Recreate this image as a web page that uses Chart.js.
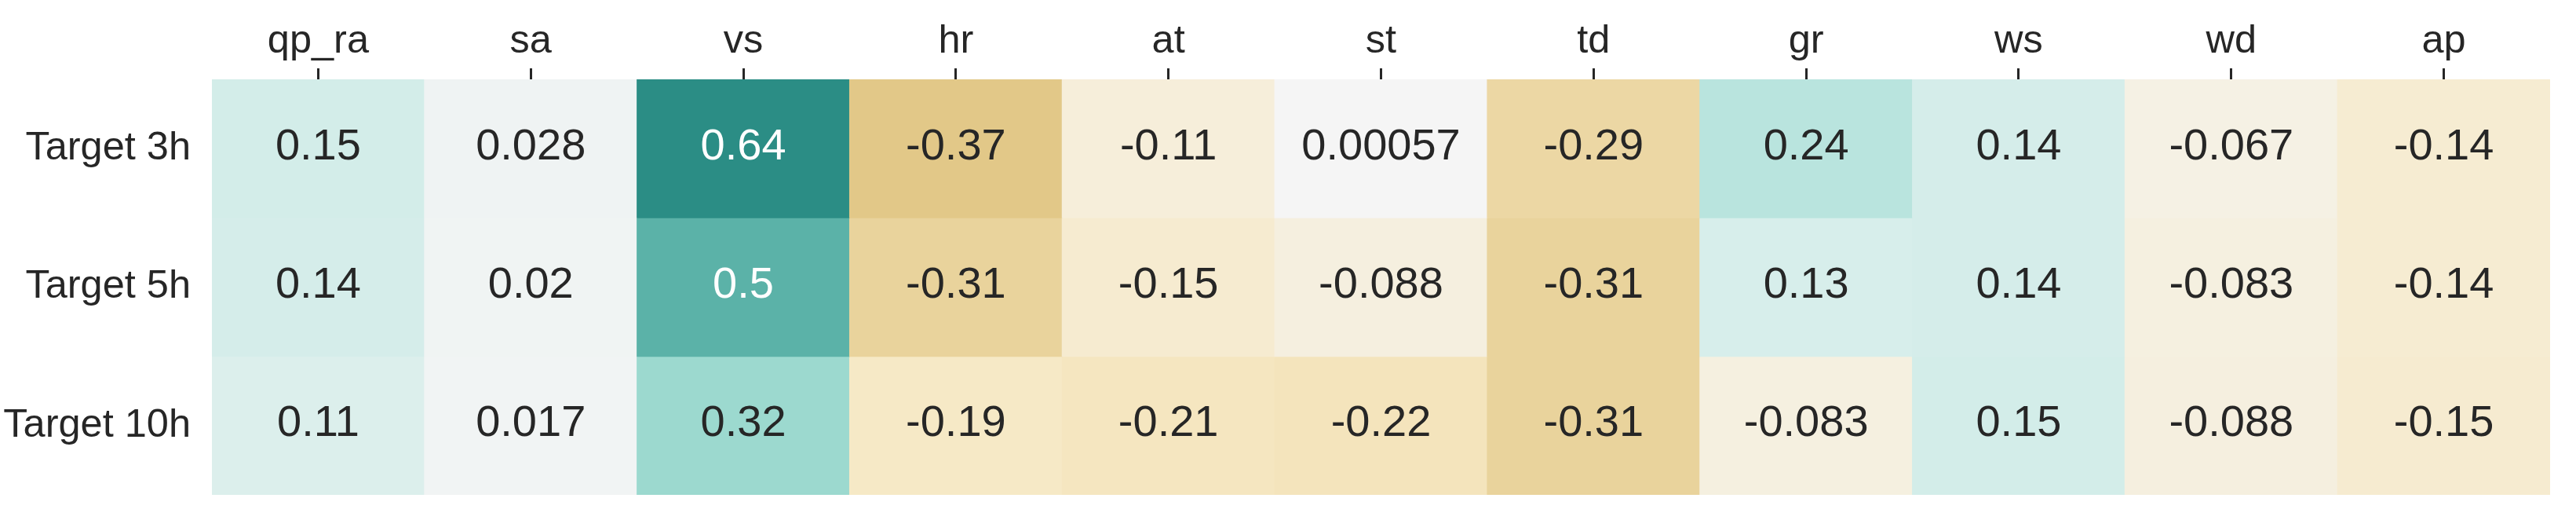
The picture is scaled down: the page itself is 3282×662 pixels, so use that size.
<!DOCTYPE html>
<html>
<head>
<meta charset="utf-8">
<script src="https://cdn.jsdelivr.net/npm/chart.js@4.4.1/dist/chart.umd.min.js"></script>
<style>
  html, body { margin: 0; padding: 0; background: #ffffff; overflow: hidden; }
  canvas { display: block; }
</style>
</head>
<body>
<canvas id="c" width="3282" height="662" style="width:3282px;height:662px"></canvas>
<script>
// ---- data ----
const columns = ["qp_ra", "sa", "vs", "hr", "at", "st", "td", "gr", "ws", "wd", "ap"];
const rowLabels = ["Target 3h", "Target 5h", "Target 10h"];
const target3h  = [0.15, 0.028, 0.64, -0.37, -0.11, 0.00057, -0.29, 0.24, 0.14, -0.067, -0.14];
const target5h  = [0.14, 0.02, 0.5, -0.31, -0.15, -0.088, -0.31, 0.13, 0.14, -0.083, -0.14];
const target10h = [0.11, 0.017, 0.32, -0.19, -0.21, -0.22, -0.31, -0.083, 0.15, -0.088, -0.15];
const rows = [target3h, target5h, target10h];
const vmin = -1, vmax = 1;

// BrBG colormap (ColorBrewer 11-class)
const brbg = [
  [84,48,5],[140,81,10],[191,129,45],[223,194,125],[246,232,195],[245,245,245],
  [199,234,229],[128,205,193],[53,151,143],[1,102,94],[0,60,48]
];
function cmap(v) {
  let t = (v - vmin) / (vmax - vmin);
  t = Math.max(0, Math.min(1, t));
  const p = t * (brbg.length - 1);
  const i = Math.min(Math.floor(p), brbg.length - 2);
  const f = p - i;
  const a = brbg[i], b = brbg[i + 1];
  return [0,1,2].map(k => Math.round(a[k] + (b[k] - a[k]) * f));
}
function lum(rgb) {
  const c = rgb.map(x => { x /= 255; return x <= 0.03928 ? x / 12.92 : Math.pow((x + 0.055) / 1.055, 2.4); });
  return 0.2126 * c[0] + 0.7152 * c[1] + 0.0722 * c[2];
}
function fmt(v) { return String(Number(v.toPrecision(2))); }

const FONT = "'Liberation Sans', Arial, Helvetica, sans-serif";
const TEXT = "#262626";

const datasets = rows.map((vals, r) => ({
  label: rowLabels[r],
  data: vals.map(() => [r, r + 1]),
  values: vals,
  backgroundColor: vals.map(v => { const c = cmap(v); return `rgb(${c[0]},${c[1]},${c[2]})`; }),
  borderWidth: 0,
  barPercentage: 1.0,
  categoryPercentage: 1.0,
  grouped: false,
  inflateAmount: 0.5
}));

const annotPlugin = {
  id: 'annot',
  afterDatasetsDraw(chart) {
    const ctx = chart.ctx;
    ctx.save();
    ctx.font = `56px ${FONT}`;
    ctx.textAlign = 'center';
    ctx.textBaseline = 'middle';
    chart.data.datasets.forEach((ds, di) => {
      const meta = chart.getDatasetMeta(di);
      meta.data.forEach((el, i) => {
        const v = ds.values[i];
        const c = cmap(v);
        ctx.fillStyle = lum(c) > 0.408 ? TEXT : '#ffffff';
        const p = el.getCenterPoint();
        ctx.fillText(fmt(v), p.x, p.y - 2);
      });
    });
    ctx.restore();
  }
};

function noPad(s) { s.paddingTop = 0; s.paddingBottom = 0; s.paddingLeft = 0; s.paddingRight = 0; }

new Chart(document.getElementById('c'), {
  type: 'bar',
  data: { labels: columns, datasets },
  plugins: [annotPlugin],
  options: {
    responsive: false,
    maintainAspectRatio: false,
    devicePixelRatio: 1,
    animation: false,
    layout: { padding: { left: 0, right: 33, top: 0, bottom: 32 } },
    plugins: { legend: { display: false }, tooltip: { enabled: false } },
    scales: {
      x: {
        position: 'top',
        offset: true,
        grid: {
          display: true, drawOnChartArea: false, drawTicks: true,
          tickLength: 14, tickWidth: 3, tickColor: TEXT, offset: false
        },
        border: { display: false },
        ticks: { color: TEXT, font: { family: FONT, size: 50.5 }, padding: 4, maxRotation: 0, autoSkip: false },
        afterFit(s) { s.height = 101; noPad(s); }
      },
      y: {
        type: 'linear',
        min: 0, max: 3,
        reverse: true,
        grid: { display: false, drawTicks: false },
        border: { display: false },
        afterBuildTicks(s) { s.ticks = rowLabels.map((_, i) => ({ value: i + 0.5 })); },
        ticks: {
          color: TEXT, font: { family: FONT, size: 50.5 }, padding: 27,
          callback: (v, i) => rowLabels[i]
        },
        afterFit(s) { s.width = 270; noPad(s); }
      }
    }
  }
});
</script>
</body>
</html>
